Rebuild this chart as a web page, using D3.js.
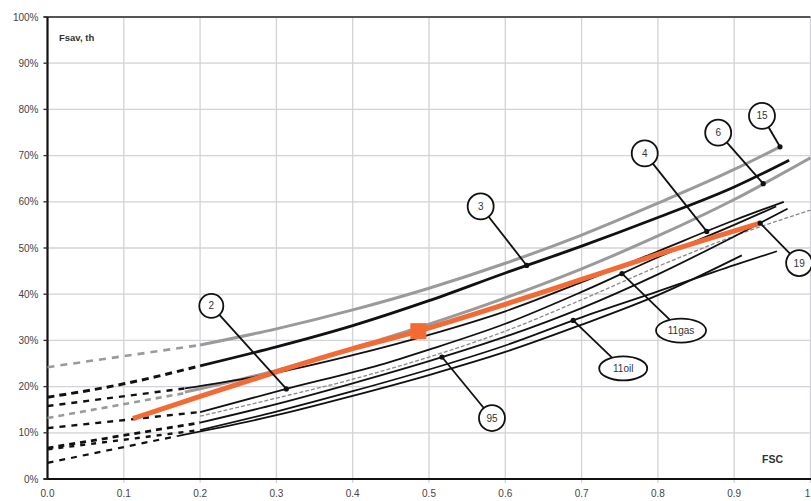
<!DOCTYPE html>
<html>
<head>
<meta charset="utf-8">
<script src="https://cdn.jsdelivr.net/npm/d3@7"></script>
<style>
  html, body { margin: 0; padding: 0; background: #fff; }
  svg { display: block; font-family: "Liberation Sans", Arial, sans-serif; }
</style>
</head>
<body>
<svg id="chart" width="811" height="501"></svg>
<script>
// Tick labels
const xTicks = [0, 0.1, 0.2, 0.3, 0.4, 0.5, 0.6, 0.7, 0.8, 0.9, 1];
const xTickLabels = ["0.0", "0.1", "0.2", "0.3", "0.4", "0.5", "0.6", "0.7", "0.8", "0.9", "1"];
const yTicks = [0, 10, 20, 30, 40, 50, 60, 70, 80, 90, 100];

// Curves: [FSC, Fsav,th %]; "Ext" arrays are the dashed extrapolations
const curve15Ext = [[0, 24.2], [0.2, 29.0]];
const curve15 = [[0.2, 29.0], [0.3, 32.5], [0.4, 36.6], [0.5, 41.3], [0.6, 46.7], [0.7, 52.8], [0.8, 59.7], [0.9, 67.0], [0.96, 71.9]];

const curve3Ext = [[0, 17.7], [0.1, 20.6], [0.2, 24.5]];
const curve3 = [[0.2, 24.5], [0.3, 28.6], [0.4, 33.2], [0.5, 38.6], [0.6, 44.6], [0.7, 50.4], [0.8, 56.6], [0.9, 63.2], [0.972, 69.0]];

const curve6Ext = [[0, 13.2], [0.18, 18.6]];
const curve6 = [[0.18, 18.8], [0.3, 23.5], [0.4, 28.3], [0.5, 33.5], [0.6, 39.2], [0.7, 45.5], [0.8, 52.6], [0.9, 60.5], [1.0, 69.5]];

const curve4Ext = [[0, 15.8], [0.18, 19.6]];
const curve4 = [[0.18, 19.6], [0.3, 23.0], [0.4, 26.8], [0.5, 31.2], [0.6, 36.3], [0.7, 42.6], [0.8, 49.3], [0.9, 56.0], [0.965, 60.0]];

const curve2Ext = [[0, 11.0], [0.2, 14.5]];
const curve2 = [[0.2, 14.5], [0.313, 19.5], [0.436, 24.7], [0.5, 28.0], [0.6, 33.6], [0.7, 40.5], [0.8, 48.0], [0.9, 55.0], [0.955, 59.0]];

const curve95Ext = [[0, 6.7], [0.2, 12.2]];
const curve95 = [[0.2, 12.2], [0.3, 16.2], [0.4, 20.7], [0.5, 25.5], [0.6, 30.8], [0.7, 37.0], [0.8, 44.3], [0.9, 52.5], [0.97, 58.5]];

const curve11oilExt = [[0, 6.4], [0.2, 10.6]];
const curve11oil = [[0.2, 10.6], [0.3, 14.6], [0.4, 19.0], [0.5, 23.7], [0.6, 28.9], [0.7, 35.0], [0.8, 40.6], [0.9, 46.3], [0.956, 49.3]];

const curveLowExt = [[0, 3.5], [0.17, 9.3]];
const curveLow = [[0.17, 9.3], [0.3, 13.8], [0.4, 18.0], [0.5, 22.5], [0.6, 27.5], [0.7, 33.4], [0.8, 39.8], [0.91, 48.4]];

const curveThin = [[0.2, 13.6], [0.3, 17.5], [0.4, 21.6], [0.5, 26.4], [0.6, 32.0], [0.7, 38.8], [0.8, 46.0], [0.9, 52.6], [1.0, 58.2]];

const curve19 = [[0.112, 13.1], [0.2, 17.9], [0.3, 23.2], [0.4, 28.2], [0.486, 32.0], [0.6, 37.8], [0.7, 43.2], [0.8, 48.6], [0.934, 55.4]];
const marker19 = [0.486, 32.0];

const svg = d3.select("#chart");
const mLeft = 47.5, mRight = 810.5, mTop = 17, mBottom = 479;
const x = d3.scaleLinear().domain([0, 1]).range([mLeft, mRight]);
const y = d3.scaleLinear().domain([0, 100]).range([mBottom, mTop]);

// Grid
const grid = svg.append("g");
grid.selectAll("line.v").data(xTicks.slice(1)).join("line")
  .attr("x1", d => x(d)).attr("x2", d => x(d))
  .attr("y1", mTop).attr("y2", mBottom + 4)
  .attr("stroke", "#d2d2d8").attr("stroke-width", 1.3);
grid.selectAll("line.h").data(yTicks.slice(1, -1)).join("line")
  .attr("x1", mLeft - 4).attr("x2", mRight)
  .attr("y1", d => y(d)).attr("y2", d => y(d))
  .attr("stroke", "#d2d2d8").attr("stroke-width", 1.3);
grid.append("line")
  .attr("x1", mLeft - 4).attr("x2", mRight).attr("y1", y(100)).attr("y2", y(100))
  .attr("stroke", "#555").attr("stroke-width", 2);

// Axes
svg.append("line").attr("x1", mLeft).attr("x2", mLeft).attr("y1", mTop).attr("y2", mBottom + 1)
  .attr("stroke", "#111").attr("stroke-width", 2.2);
svg.append("line").attr("x1", mLeft - 4).attr("x2", mRight + 1).attr("y1", mBottom).attr("y2", mBottom)
  .attr("stroke", "#111").attr("stroke-width", 2.2);
svg.selectAll("line.ytick").data(yTicks).join("line")
  .attr("x1", mLeft - 4).attr("x2", mLeft).attr("y1", d => y(d)).attr("y2", d => y(d))
  .attr("stroke", "#333").attr("stroke-width", 1.3);

svg.selectAll("text.ylab").data(yTicks).join("text")
  .attr("x", mLeft - 9).attr("y", d => y(d) + 3.5)
  .attr("text-anchor", "end").attr("font-size", 10).attr("fill", "#444")
  .text(d => d + "%");
svg.selectAll("text.xlab").data(xTicks).join("text")
  .attr("x", (d, i) => x(d) - (i === xTicks.length - 1 ? 3 : 0)).attr("y", 497)
  .attr("text-anchor", "middle").attr("font-size", 10).attr("fill", "#444")
  .text((d, i) => xTickLabels[i]);

svg.append("text").attr("x", 59).attr("y", 41).attr("font-size", 9.5).attr("font-weight", "bold")
  .attr("fill", "#333").text("Fsav, th");
svg.append("text").attr("x", 762).attr("y", 463).attr("font-size", 10.5).attr("font-weight", "bold")
  .attr("fill", "#333").text("FSC");

const line = d3.line().x(d => x(d[0])).y(d => y(d[1])).curve(d3.curveMonotoneX);
const plot = svg.append("g").attr("fill", "none").attr("stroke-linecap", "butt");

function draw(data, color, width, dash) {
  plot.append("path").datum(data).attr("d", line)
    .attr("stroke", color).attr("stroke-width", width)
    .attr("stroke-dasharray", dash || null);
}

// Dashed extrapolations
draw(curve15Ext, "#9a9a9a", 2.6, "7,6");
draw(curve3Ext, "#111", 3, "7,5");
draw(curve6Ext, "#9a9a9a", 2.6, "6,5");
draw(curve4Ext, "#111", 2.4, "6,6");
draw(curve2Ext, "#111", 2.4, "6,6");
draw(curve95Ext, "#111", 2.8, "6,5");
draw(curve11oilExt, "#111", 2.4, "5,6");
draw(curveLowExt, "#111", 2.2, "6,6");

// Solid curves
draw(curve15, "#9a9a9a", 3);
draw(curve6, "#9a9a9a", 3);
draw(curveThin, "#8a8a8a", 1.3, "4,2");
draw(curveLow, "#111", 1.8);
draw(curve11oil, "#111", 1.8);
draw(curve95, "#111", 1.8);
draw(curve2, "#111", 1.8);
draw(curve4, "#111", 1.8);
draw(curve3, "#111", 2.8);
draw(curve19, "#f26b35", 5);

plot.append("rect")
  .attr("x", x(marker19[0]) - 8).attr("y", y(marker19[1]) - 8)
  .attr("width", 16).attr("height", 16)
  .attr("fill", "#f26b35").attr("stroke", "none");

// Callouts: anchored on a curve at a given FSC, bubble offset in px
function yAt(data, xv) {
  const xs = data.map(d => d[0]);
  const i = Math.max(1, Math.min(data.length - 1, d3.bisectLeft(xs, xv)));
  const a = data[i - 1], b = data[i];
  return a[1] + (b[1] - a[1]) * (xv - a[0]) / (b[0] - a[0]);
}
const callouts = [
  { label: "15", data: curve15, fsc: 0.96, dx: -18, dy: -31, rx: 13, ry: 13 },
  { label: "6", data: curve6, fsc: 0.938, dx: -45, dy: -51, rx: 13, ry: 13 },
  { label: "4", data: curve4, fsc: 0.864, dx: -62, dy: -78, rx: 13, ry: 13 },
  { label: "3", data: curve3, fsc: 0.628, dx: -46, dy: -59, rx: 13, ry: 13 },
  { label: "2", data: curve2, fsc: 0.313, dx: -75, dy: -83, rx: 12, ry: 12 },
  { label: "19", data: curve19, fsc: 0.934, dx: 39, dy: 40, rx: 13, ry: 13 },
  { label: "11gas", data: curve2, fsc: 0.753, dx: 59, dy: 57, rx: 25, ry: 12 },
  { label: "11oil", data: curve11oil, fsc: 0.689, dx: 50, dy: 48, rx: 24, ry: 12 },
  { label: "95", data: curve95, fsc: 0.517, dx: 50, dy: 61, rx: 13, ry: 13 }
];
const cg = svg.append("g");
callouts.forEach(c => {
  const ax = x(c.fsc), ay = y(yAt(c.data, c.fsc));
  const g = cg.append("g");
  g.append("line").attr("x1", ax).attr("y1", ay).attr("x2", ax + c.dx).attr("y2", ay + c.dy)
    .attr("stroke", "#111").attr("stroke-width", 1.8);
  g.append("circle").attr("cx", ax).attr("cy", ay).attr("r", 2.6).attr("fill", "#111");
  g.append("ellipse").attr("cx", ax + c.dx).attr("cy", ay + c.dy).attr("rx", c.rx).attr("ry", c.ry)
    .attr("fill", "#fff").attr("stroke", "#111").attr("stroke-width", 1.8);
  g.append("text").attr("x", ax + c.dx).attr("y", ay + c.dy + 3.5)
    .attr("text-anchor", "middle").attr("font-size", 10).attr("fill", "#333").text(c.label);
});
</script>
</body>
</html>
